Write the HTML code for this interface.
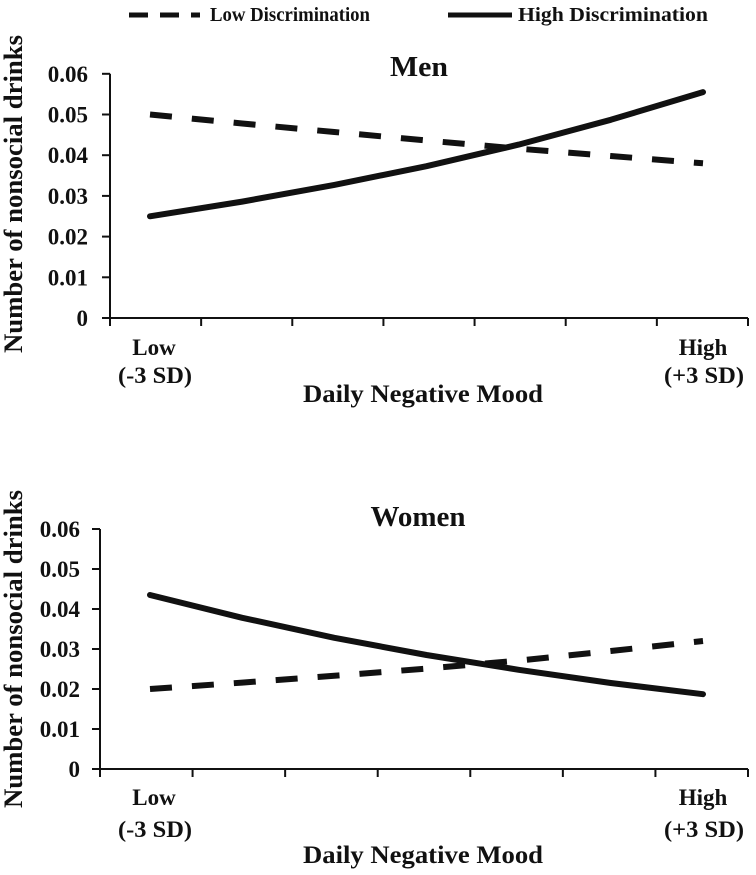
<!DOCTYPE html>
<html><head><meta charset="utf-8"><style>
body{margin:0;background:#fff}
svg{display:block}
text{font-family:"Liberation Serif",serif;font-weight:bold;fill:#111}
</style></head><body>
<svg id="chart" width="756" height="875" viewBox="0 0 756 875" xmlns="http://www.w3.org/2000/svg">
<g>
<line x1="129" y1="15" x2="200" y2="15" stroke="#111" stroke-width="5" stroke-dasharray="19,12"/>
<text x="210" y="21" font-size="20" textLength="160" lengthAdjust="spacingAndGlyphs">Low Discrimination</text>
<line x1="448" y1="15" x2="512" y2="15" stroke="#111" stroke-width="5"/>
<text x="518" y="21" font-size="20" textLength="190" lengthAdjust="spacingAndGlyphs">High Discrimination</text>
</g>
</svg>
<script>
const xValues=[-3,-2,-1,0,1,2,3];
const yTicks=[0,0.01,0.02,0.03,0.04,0.05,0.06];
const yTickLabels=["0","0.01","0.02","0.03","0.04","0.05","0.06"];
const menLow=[0.050,0.0478,0.0457,0.0436,0.0416,0.0398,0.038];
const menHigh=[0.025,0.0286,0.0327,0.0373,0.0426,0.0487,0.0555];
const womenLow=[0.0200,0.0216,0.0233,0.0251,0.0271,0.0295,0.0320];
const womenHigh=[0.0435,0.0378,0.0328,0.0285,0.0248,0.0215,0.0187];

const NS="http://www.w3.org/2000/svg";
const svg=document.getElementById('chart');
function mk(tag,attrs,parent,txt){const e=document.createElementNS(NS,tag);for(const k in attrs)e.setAttribute(k,attrs[k]);if(txt!==undefined)e.textContent=txt;parent.appendChild(e);return e;}

function panel(cfg){
  const g=mk('g',{},svg);
  
  
  const x0=cfg.axisX,x1=748,y0=cfg.zeroY,pxPer=cfg.pxPer;
  const yS=v=>y0-v*100*pxPer;
  const xS=v=>150+(v+3)/6*553;
  const ya=mk('line',{x1:x0,y1:yS(0.06),x2:x0,y2:y0,stroke:'#111','stroke-width':2},g);
  
  
  const xa=mk('line',{x1:x0,y1:y0,x2:x1,y2:y0,stroke:'#111','stroke-width':2},g);
  
  
  yTicks.forEach((t,i)=>{
    const tk=mk('line',{x1:x0-8,y1:yS(t),x2:x0,y2:yS(t),stroke:'#111','stroke-width':2},g);
    
    
    const lb=mk('text',{x:cfg.labelX,y:yS(t)+8,'font-size':23,'text-anchor':'end'},g,yTickLabels[i]);
    
    
  });
  for(let i=0;i<=7;i++){
    const x=x0+(x1-x0)*i/7;
    const tk=mk('line',{x1:x,y1:y0,x2:x,y2:y0+8,stroke:'#111','stroke-width':2},g);
    
    
  }
  const t1=mk('text',{x:154,y:y0+cfg.o1,'font-size':23,'text-anchor':'middle'},g,'Low');
  
  
  const t2=mk('text',{x:155,y:y0+cfg.o2,'font-size':23,'text-anchor':'middle',textLength:74,lengthAdjust:'spacingAndGlyphs'},g,'(-3 SD)');
  
  
  const t3=mk('text',{x:703,y:y0+cfg.o1,'font-size':23,'text-anchor':'middle'},g,'High');
  
  
  const t4=mk('text',{x:704,y:y0+cfg.o2,'font-size':23,'text-anchor':'middle',textLength:80,lengthAdjust:'spacingAndGlyphs'},g,'(+3 SD)');
  
  
  const xt=mk('text',{x:423,y:y0+cfg.o3,'font-size':25,'text-anchor':'middle',textLength:240,lengthAdjust:'spacingAndGlyphs'},g,'Daily Negative Mood');
  
  
  const yt=mk('text',{x:0,y:0,'font-size':26,'text-anchor':'middle',textLength:318,lengthAdjust:'spacingAndGlyphs',transform:`translate(22,${cfg.yTitleY}) rotate(-90)`},g,'Number of nonsocial drinks');
  
  
  const tt=mk('text',{x:cfg.titleX,y:cfg.titleY,'font-size':28,'text-anchor':'middle',textLength:cfg.titleLen,lengthAdjust:'spacingAndGlyphs'},g,cfg.title);
  
  
  const path=arr=>arr.map((v,i)=>(i?'L':'M')+xS(xValues[i]).toFixed(1)+','+yS(v).toFixed(1)).join(' ');
  const lo=mk('path',{d:path(cfg.low),fill:'none',stroke:'#111','stroke-width':6,'stroke-dasharray':'22,20','stroke-linejoin':'round'},g);
  
  
  const hi=mk('path',{d:path(cfg.high),fill:'none',stroke:'#111','stroke-width':6,'stroke-linecap':'round','stroke-linejoin':'round'},g);
  
  
}
panel({name:'men-panel',title:'Men',axisX:110,zeroY:318,pxPer:40.7,labelX:88,titleX:419,titleY:76,titleLen:58,yTitleY:194,o1:37,o2:65,o3:84,low:menLow,high:menHigh});
panel({name:'women-panel',title:'Women',axisX:100,zeroY:769,pxPer:40,labelX:80,titleX:418,titleY:526,titleLen:95,yTitleY:649,o1:36,o2:68,o3:94,low:womenLow,high:womenHigh});
</script>
</body></html>
